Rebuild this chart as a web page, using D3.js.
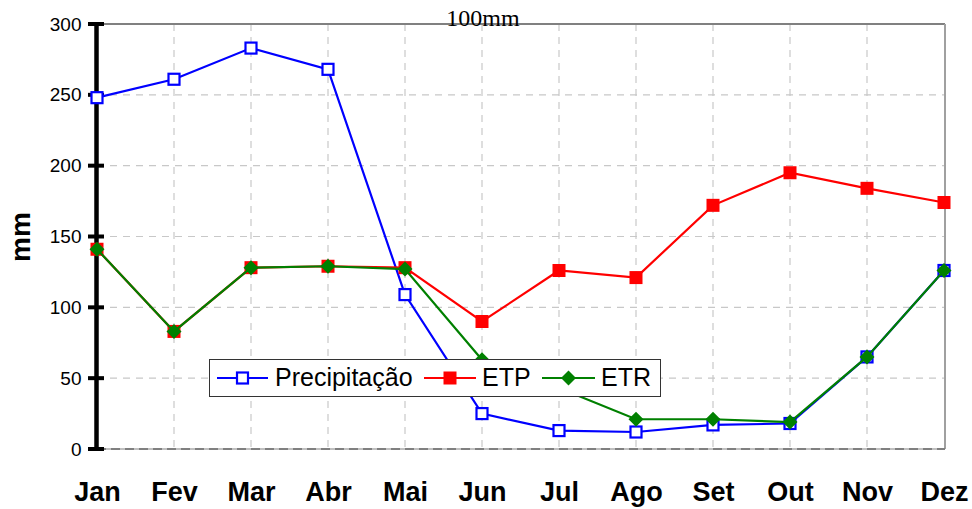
<!DOCTYPE html>
<html><head><meta charset="utf-8">
<script src="https://cdn.jsdelivr.net/npm/d3@7"></script>
<style>body{margin:0;background:#fff}svg{display:block}</style>
</head><body>
<script>
const months = ["Jan","Fev","Mar","Abr","Mai","Jun","Jul","Ago","Set","Out","Nov","Dez"];
const precipitacao = [248,261,283,268,109,25,13,12,17,18,65,126];
const etp = [141,83,128,129,128,90,126,121,172,195,184,174];
const etr = [141,83,128,129,127,63,43,21,21,19,65,126];
const yTicks = [0,50,100,150,200,250,300];

const W=972,H=509;
const svg=d3.select("body").append("svg").attr("width",W).attr("height",H);
const x=d3.scalePoint().domain(months).range([97,944]);
const y=d3.scaleLinear().domain([0,300]).range([449,24]);

// grid
const g=svg.append("g");
g.selectAll(".hg").data(yTicks.filter(d=>d>0&&d<300)).join("line")
 .attr("x1",97).attr("x2",944).attr("y1",d=>y(d)).attr("y2",d=>y(d))
 .attr("stroke","#c8c8c8").attr("stroke-width",1.2).attr("stroke-dasharray","7,6");
g.selectAll(".vg").data(months.slice(1,11)).join("line")
 .attr("x1",d=>x(d)).attr("x2",d=>x(d)).attr("y1",y(300)).attr("y2",y(0))
 .attr("stroke","#c8c8c8").attr("stroke-width",1.2).attr("stroke-dasharray","7,6");
// top and right border
g.append("line").attr("x1",97).attr("x2",945).attr("y1",y(300)).attr("y2",y(300)).attr("stroke","#808080").attr("stroke-width",2);
g.append("line").attr("x1",945).attr("x2",945).attr("y1",y(300)).attr("y2",y(0)).attr("stroke","#a0a0a0").attr("stroke-width",2);
// bottom axis dashed
g.append("line").attr("x1",97).attr("x2",945).attr("y1",y(0)).attr("y2",y(0)).attr("stroke","#c0c0c0").attr("stroke-width",2);
g.append("line").attr("x1",97).attr("x2",945).attr("y1",y(0)).attr("y2",y(0)).attr("stroke","#808080").attr("stroke-width",2).attr("stroke-dasharray","9,5");

// title text
svg.append("text").attr("x",483).attr("y",26).attr("text-anchor","middle")
 .attr("font-family","Liberation Serif, Times New Roman, serif").attr("font-size",24).text("100mm");

// y axis
const yAxis=d3.axisLeft(y).tickValues(yTicks).tickSize(0).tickPadding(0);
const ya=svg.append("g").attr("transform","translate(96.5,0)").call(yAxis);
ya.select(".domain").remove();
ya.selectAll(".tick line").remove();
ya.selectAll(".tick text").attr("x",-15).attr("font-family","Liberation Sans, Arial, sans-serif").attr("font-size",19).attr("fill","#000");
svg.selectAll(".yt").data(yTicks).join("line").attr("x1",88).attr("x2",104)
 .attr("y1",d=>y(d)).attr("y2",d=>y(d)).attr("stroke","#000").attr("stroke-width",4);
svg.append("line").attr("x1",96.5).attr("x2",96.5).attr("y1",y(300)-2).attr("y2",y(0)+2).attr("stroke","#000").attr("stroke-width",4.5);

svg.append("text").attr("transform","translate(30,237) rotate(-90)").attr("text-anchor","middle")
 .attr("font-family","Liberation Sans, Arial, sans-serif").attr("font-weight","bold").attr("font-size",28).text("mm");

// x labels
const xAxis=d3.axisBottom(x).tickSize(0).tickPadding(0);
const xa=svg.append("g").call(xAxis);
xa.select(".domain").remove();
xa.selectAll(".tick text").attr("y",501).attr("dy",0).attr("font-family","Liberation Sans, Arial, sans-serif")
 .attr("font-weight","bold").attr("font-size",27).attr("fill","#000");

// series
const line=d3.line().x((d,i)=>x(months[i])).y(d=>y(d));
const series=[
 {name:"Precipitação",data:precipitacao,color:"#0000ff",marker:"hsq"},
 {name:"ETP",data:etp,color:"#ff0000",marker:"sq"},
 {name:"ETR",data:etr,color:"#008000",marker:"dia"}
];
function drawMarker(sel,type,color){
  if(type==="hsq") sel.append("rect").attr("x",-5.5).attr("y",-5.5).attr("width",11).attr("height",11)
     .attr("fill","#fff").attr("stroke",color).attr("stroke-width",2.2);
  else if(type==="sq") sel.append("rect").attr("x",-6.5).attr("y",-6.5).attr("width",13).attr("height",13).attr("fill",color);
  else sel.append("path").attr("d","M0,-7.5L7.5,0L0,7.5L-7.5,0Z").attr("fill",color);
}
series.forEach(s=>{
  svg.append("path").datum(s.data).attr("d",line).attr("fill","none").attr("stroke",s.color).attr("stroke-width",2.2);
  s.data.forEach((v,i)=>{
    const m=svg.append("g").attr("transform",`translate(${x(months[i])},${y(v)})`);
    drawMarker(m,s.marker,s.color);
  });
});

// legend
const lg=svg.append("g");
lg.append("rect").attr("x",209.5).attr("y",359.5).attr("width",451).attr("height",37)
 .attr("fill","#fff").attr("stroke","#333").attr("stroke-width",1);
const items=[{x0:217,x1:268,tx:275},{x0:424,x1:476,tx:482},{x0:542,x1:595,tx:601}];
series.forEach((s,i)=>{
  const it=items[i];
  lg.append("line").attr("x1",it.x0).attr("x2",it.x1).attr("y1",378).attr("y2",378).attr("stroke",s.color).attr("stroke-width",2.2);
  const m=lg.append("g").attr("transform",`translate(${(it.x0+it.x1)/2},378)`);
  drawMarker(m,s.marker,s.color);
  lg.append("text").attr("x",it.tx).attr("y",386).attr("font-family","Liberation Sans, Arial, sans-serif")
   .attr("font-size",25).attr("fill","#000").text(s.name);
});
</script>
</body></html>
